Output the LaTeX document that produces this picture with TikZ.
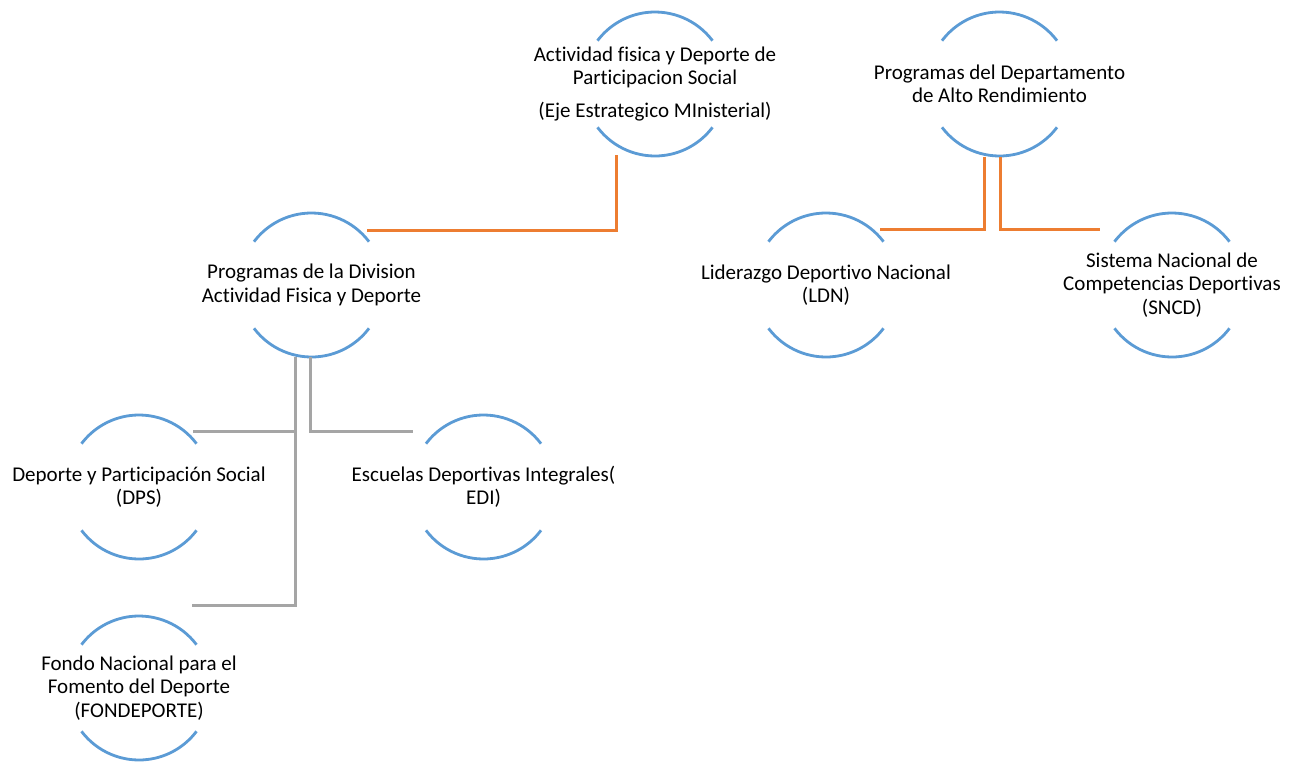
\documentclass[tikz,border=0pt]{standalone}
\usepackage{fontspec}
\setmainfont{Carlito}[Ligatures=NoCommon,RawFeature={-calt;-clig;-dlig}]
\usetikzlibrary{calc}
\definecolor{arcblue}{HTML}{5B9BD5}
\definecolor{linkorange}{HTML}{ED7D31}
\definecolor{linkgray}{HTML}{A5A5A5}
\tikzset{
  lbl/.style={align=center, inner sep=0pt, text=black, font=\fontsize{21}{23.5}\selectfont},
  arcline/.style={draw=arcblue, line width=2.8pt},
  orangelink/.style={draw=linkorange, line width=3pt},
  graylink/.style={draw=linkgray, line width=3pt},
}
\newcommand{\halfarcs}[1]{%
  \draw[arcline] ($(#1.center)+(37:72)$) arc[start angle=37,end angle=143,radius=72];
  \draw[arcline] ($(#1.center)+(217:72)$) arc[start angle=217,end angle=323,radius=72];
}
\begin{document}
\begin{tikzpicture}[x=1pt,y=1pt]
\useasboundingbox[fill=white] (0,0) rectangle (1299,-761);

\node[lbl] (act) at (655,-84) {Actividad fisica y Deporte de\\Participacion Social\\[9.5pt](Eje Estrategico MInisterial)};
\node[lbl] (dar) at (999.5,-84) {Programas del Departamento\\de Alto Rendimiento};
\node[lbl] (div) at (311.5,-285) {Programas de la Division\\Actividad Fisica y Deporte};
\node[lbl] (ldn) at (826,-285) {Liderazgo Deportivo Nacional\\(LDN)};
\node[lbl] (sncd) at (1172,-285) {Sistema Nacional de\\Competencias Deportivas\\(SNCD)};
\node[lbl] (dps) at (139,-487) {Deporte y Participación Social\\(DPS)};
\node[lbl] (edi) at (483.5,-487) {Escuelas Deportivas Integrales(\\EDI)};
\node[lbl] (fon) at (139,-688) {Fondo Nacional para el\\Fomento del Deporte\\(FONDEPORTE)};

\halfarcs{act}
\halfarcs{dar}
\halfarcs{div}
\halfarcs{ldn}
\halfarcs{sncd}
\halfarcs{dps}
\halfarcs{edi}
\halfarcs{fon}

% orange connectors
\draw[orangelink] ($(div.center)+(55.5,55)$) -| ($(act.center)+(-39,-71)$);
\draw[orangelink] ($(dar.center)+(-15.5,-73)$) |- ($(ldn.center)+(54,56)$);
\draw[orangelink] ($(dar.center)+(0.5,-73)$) |- ($(sncd.center)+(-72,56)$);

% gray connectors
\draw[graylink] ($(div.center)+(-16.5,-72)$) |- ($(fon.center)+(53,83)$);
\draw[graylink] ($(div.center)+(-16.5,-72)$) |- ($(dps.center)+(54,56)$);
\draw[graylink] ($(div.center)+(-1.5,-72)$) |- ($(edi.center)+(-70.5,56)$);
\end{tikzpicture}
\end{document}
